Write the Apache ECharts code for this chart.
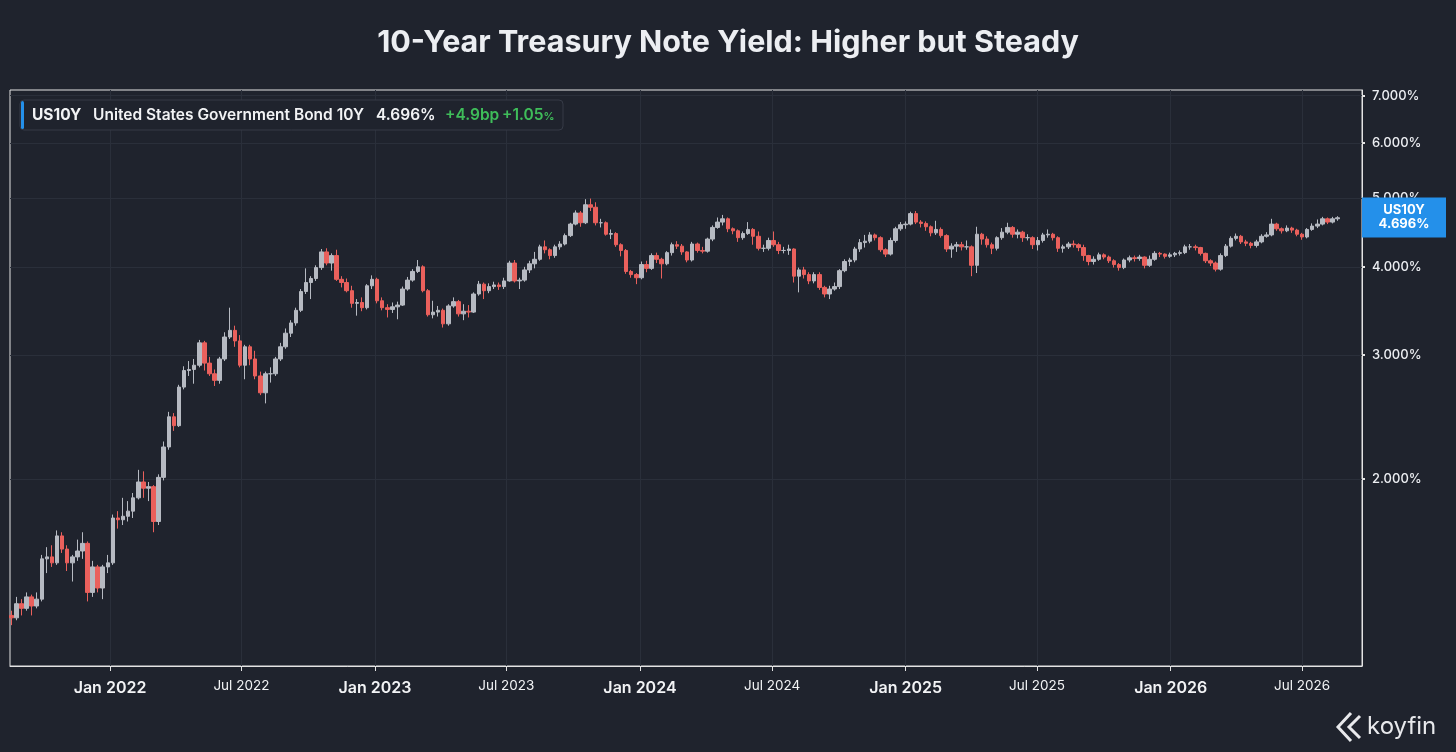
<!DOCTYPE html>
<html lang="en">
<head>
<meta charset="UTF-8">
<title>10-Year Treasury Note Yield</title>
<script src="https://cdn.jsdelivr.net/npm/echarts@6/dist/echarts.min.js"></script>
<style>
    html, body { margin: 0; padding: 0; background: #1f232d; }
    #main { width: 1456px; height: 752px; }
</style>
</head>
<body>
<div id="main"></div>
<script>
// weekly candles, first week starts Mon 16 Aug 2021
// open of each week = close of the week before
var firstOpen = 1.28;

var closes = [
    1.27, 1.33, 1.31, 1.36, 1.32, 1.35, 1.54, 1.55, 1.52, 1.66,
    1.59, 1.52, 1.55, 1.58, 1.62, 1.38, 1.50, 1.40, 1.50, 1.52,
    1.76, 1.75, 1.77, 1.80, 1.88, 1.98, 1.94, 1.95, 1.74, 2.01,
    2.22, 2.45, 2.38, 2.70, 2.85, 2.86, 2.90, 3.12, 2.92, 2.82,
    2.76, 2.96, 3.18, 3.25, 3.14, 2.90, 3.08, 2.96, 2.80, 2.65,
    2.82, 2.82, 2.96, 3.08, 3.22, 3.33, 3.47, 3.69, 3.80, 3.85,
    3.99, 4.20, 4.05, 4.15, 3.84, 3.80, 3.70, 3.55, 3.56, 3.50,
    3.76, 3.84, 3.58, 3.50, 3.48, 3.51, 3.53, 3.72, 3.83, 3.94,
    4.00, 3.70, 3.42, 3.45, 3.47, 3.32, 3.52, 3.57, 3.43, 3.46,
    3.45, 3.66, 3.78, 3.70, 3.75, 3.77, 3.75, 3.82, 4.05, 3.82,
    3.83, 3.96, 4.04, 4.10, 4.27, 4.23, 4.15, 4.27, 4.31, 4.43,
    4.60, 4.77, 4.62, 4.90, 4.86, 4.62, 4.62, 4.45, 4.46, 4.30,
    4.22, 3.94, 3.90, 3.86, 4.03, 3.98, 4.15, 4.10, 4.04, 4.19,
    4.30, 4.28, 4.20, 4.09, 4.31, 4.22, 4.21, 4.38, 4.55, 4.63,
    4.68, 4.53, 4.50, 4.40, 4.46, 4.52, 4.42, 4.25, 4.25, 4.36,
    4.30, 4.22, 4.22, 4.24, 3.88, 3.96, 3.90, 3.82, 3.90, 3.74,
    3.66, 3.72, 3.75, 3.95, 4.07, 4.09, 4.24, 4.33, 4.35, 4.44,
    4.40, 4.23, 4.17, 4.36, 4.53, 4.59, 4.60, 4.76, 4.63, 4.61,
    4.56, 4.47, 4.52, 4.43, 4.24, 4.28, 4.30, 4.27, 4.27, 4.02,
    4.45, 4.38, 4.30, 4.25, 4.40, 4.48, 4.55, 4.45, 4.48, 4.40,
    4.40, 4.30, 4.36, 4.44, 4.45, 4.40, 4.25, 4.27, 4.31, 4.30,
    4.26, 4.15, 4.07, 4.10, 4.16, 4.13, 4.08, 4.03, 3.99, 4.09,
    4.12, 4.11, 4.13, 4.02, 4.10, 4.18, 4.17, 4.14, 4.16, 4.18,
    4.19, 4.27, 4.27, 4.26, 4.18, 4.08, 4.05, 3.97, 4.15, 4.28,
    4.39, 4.42, 4.34, 4.32, 4.29, 4.34, 4.42, 4.44, 4.60, 4.53,
    4.50, 4.54, 4.51, 4.45, 4.41, 4.52, 4.57, 4.60, 4.68, 4.63,
    4.68, 4.696
];

var highs = [
    1.30, 1.36, 1.35, 1.38, 1.37, 1.38, 1.56, 1.60, 1.61, 1.69,
    1.68, 1.61, 1.56, 1.64, 1.68, 1.63, 1.53, 1.51, 1.51, 1.56,
    1.78, 1.80, 1.88, 1.86, 1.91, 2.06, 2.05, 1.98, 1.96, 2.03,
    2.26, 2.49, 2.48, 2.72, 2.89, 2.94, 2.96, 3.15, 3.14, 2.98,
    2.86, 2.98, 3.23, 3.50, 3.30, 3.20, 3.10, 3.10, 3.04, 2.84,
    2.84, 2.88, 2.98, 3.12, 3.27, 3.36, 3.50, 3.72, 3.98, 3.88,
    4.02, 4.24, 4.25, 4.18, 4.23, 3.88, 3.85, 3.76, 3.60, 3.62,
    3.78, 3.89, 3.86, 3.62, 3.54, 3.56, 3.57, 3.75, 3.87, 3.97,
    4.09, 4.02, 3.72, 3.58, 3.52, 3.49, 3.54, 3.62, 3.59, 3.54,
    3.53, 3.68, 3.82, 3.80, 3.79, 3.81, 3.80, 3.86, 4.08, 4.09,
    3.86, 4.00, 4.08, 4.20, 4.30, 4.36, 4.25, 4.30, 4.35, 4.46,
    4.62, 4.81, 4.80, 4.99, 5.00, 4.94, 4.68, 4.64, 4.52, 4.48,
    4.32, 4.24, 3.96, 3.92, 4.07, 4.08, 4.18, 4.19, 4.12, 4.21,
    4.33, 4.35, 4.31, 4.21, 4.34, 4.33, 4.27, 4.40, 4.58, 4.70,
    4.74, 4.70, 4.55, 4.52, 4.49, 4.63, 4.54, 4.49, 4.30, 4.40,
    4.49, 4.34, 4.27, 4.30, 4.25, 3.99, 4.00, 3.93, 3.93, 3.93,
    3.76, 3.76, 3.80, 3.97, 4.10, 4.12, 4.27, 4.38, 4.44, 4.48,
    4.46, 4.42, 4.25, 4.40, 4.56, 4.63, 4.64, 4.79, 4.80, 4.66,
    4.64, 4.58, 4.65, 4.55, 4.45, 4.32, 4.34, 4.34, 4.36, 4.29,
    4.56, 4.47, 4.42, 4.33, 4.42, 4.54, 4.62, 4.57, 4.52, 4.50,
    4.45, 4.42, 4.41, 4.47, 4.52, 4.47, 4.42, 4.30, 4.34, 4.36,
    4.32, 4.30, 4.16, 4.14, 4.19, 4.18, 4.15, 4.10, 4.05, 4.11,
    4.15, 4.15, 4.16, 4.14, 4.15, 4.21, 4.20, 4.18, 4.19, 4.20,
    4.22, 4.30, 4.31, 4.30, 4.27, 4.19, 4.10, 4.07, 4.18, 4.31,
    4.42, 4.46, 4.44, 4.37, 4.34, 4.37, 4.45, 4.48, 4.68, 4.62,
    4.55, 4.58, 4.56, 4.53, 4.47, 4.54, 4.61, 4.67, 4.71, 4.70,
    4.71, 4.72
];

var lows = [
    1.24, 1.26, 1.28, 1.30, 1.28, 1.31, 1.34, 1.47, 1.50, 1.51,
    1.57, 1.48, 1.43, 1.53, 1.54, 1.34, 1.36, 1.38, 1.35, 1.47,
    1.51, 1.70, 1.72, 1.74, 1.76, 1.87, 1.88, 1.86, 1.68, 1.72,
    1.99, 2.20, 2.34, 2.37, 2.68, 2.80, 2.73, 2.88, 2.85, 2.80,
    2.71, 2.73, 2.94, 3.16, 3.08, 2.88, 2.77, 2.90, 2.77, 2.63,
    2.56, 2.74, 2.80, 2.94, 3.06, 3.18, 3.30, 3.45, 3.66, 3.60,
    3.82, 3.96, 4.02, 3.95, 3.82, 3.74, 3.68, 3.50, 3.41, 3.46,
    3.48, 3.72, 3.55, 3.47, 3.39, 3.44, 3.37, 3.52, 3.70, 3.81,
    3.92, 3.68, 3.40, 3.38, 3.40, 3.28, 3.30, 3.50, 3.40, 3.36,
    3.39, 3.44, 3.64, 3.60, 3.67, 3.72, 3.71, 3.72, 3.81, 3.80,
    3.72, 3.81, 3.92, 3.98, 4.08, 4.18, 4.10, 4.12, 4.23, 4.29,
    4.41, 4.58, 4.56, 4.60, 4.80, 4.58, 4.55, 4.43, 4.38, 4.27,
    4.14, 3.91, 3.86, 3.78, 3.84, 3.93, 3.96, 4.05, 3.85, 4.02,
    4.15, 4.24, 4.16, 4.06, 4.07, 4.19, 4.18, 4.19, 4.35, 4.53,
    4.58, 4.48, 4.45, 4.34, 4.37, 4.44, 4.30, 4.22, 4.20, 4.22,
    4.27, 4.17, 4.18, 4.16, 3.80, 3.68, 3.85, 3.78, 3.79, 3.71,
    3.62, 3.60, 3.70, 3.72, 3.93, 4.01, 4.06, 4.20, 4.26, 4.32,
    4.36, 4.20, 4.13, 4.15, 4.33, 4.50, 4.53, 4.58, 4.60, 4.55,
    4.50, 4.42, 4.44, 4.40, 4.20, 4.12, 4.20, 4.22, 4.23, 3.88,
    3.92, 4.30, 4.26, 4.17, 4.22, 4.37, 4.45, 4.40, 4.39, 4.34,
    4.36, 4.24, 4.22, 4.33, 4.40, 4.36, 4.20, 4.19, 4.24, 4.26,
    4.21, 4.08, 4.02, 4.03, 4.08, 4.10, 4.05, 3.99, 3.95, 3.97,
    4.06, 4.07, 4.08, 3.98, 4.00, 4.08, 4.13, 4.11, 4.12, 4.13,
    4.15, 4.17, 4.23, 4.22, 4.15, 4.05, 4.01, 3.94, 3.95, 4.13,
    4.26, 4.36, 4.31, 4.28, 4.25, 4.26, 4.32, 4.40, 4.42, 4.50,
    4.46, 4.48, 4.47, 4.42, 4.37, 4.39, 4.50, 4.54, 4.58, 4.60,
    4.61, 4.65
];

var yTicks = [2, 3, 4, 5, 6, 7];
var xTicks = ['2022-01-01', '2022-07-01', '2023-01-01', '2023-07-01', '2024-01-01',
    '2024-07-01', '2025-01-01', '2025-07-01', '2026-01-01', '2026-07-01'];
var monthNames = ['Jan', 'Feb', 'Mar', 'Apr', 'May', 'Jun', 'Jul', 'Aug', 'Sep', 'Oct', 'Nov', 'Dec'];

var ticker = 'US10Y';
var bondName = 'United States Government Bond 10Y';
var lastValue = 4.696;
var changeBp = '+4.9bp';
var changePct = '+1.05';

var bg = '#1f232d';
var upColor = '#b6bac2';
var downColor = '#ea605c';
var blue = '#2490ea';

// candle sits on the Wednesday of its week (x is a timestamp)
var candles = closes.map(function (c, i) {
    var open = i === 0 ? firstOpen : closes[i - 1];
    return [new Date(2021, 7, 18 + i * 7).getTime(), open, c, lows[i], highs[i]];
});

var xTickValues = xTicks.map(function (s) {
    return new Date(s + 'T00:00:00').getTime();
});

var myChart = echarts.init(document.getElementById('main'));

var option = {
    backgroundColor: bg,
    animation: false,
    title: {
        text: '10-Year Treasury Note Yield: Higher but Steady',
        left: 'center',
        top: 27,
        padding: 0,
        textStyle: {
            color: '#eceef2',
            fontSize: 30.5,
            fontWeight: 700,
            fontFamily: 'Inter'
        }
    },
    grid: {
        left: 10,
        right: 94,
        top: 90,
        bottom: 86,
        show: true,
        borderColor: '#e4e4e4',
        borderWidth: 1,
        outerBoundsMode: 'none'
    },
    xAxis: {
        type: 'value',
        min: new Date(2021, 7, 16, 6).getTime(),
        max: new Date(2026, 8, 21, 14).getTime(),
        axisLine: { show: true, lineStyle: { color: '#e4e4e4', width: 1 } },
        axisTick: {
            show: true,
            length: 5,
            customValues: xTickValues,
            lineStyle: { color: '#e4e4e4' }
        },
        splitLine: {
            show: true,
            lineStyle: { color: '#2a2f3a', width: 1 }
        },
        axisLabel: {
            customValues: xTickValues,
            margin: 12,
            formatter: function (value) {
                var d = new Date(value);
                var txt = monthNames[d.getMonth()] + ' ' + d.getFullYear();
                return d.getMonth() === 0 ? '{big|' + txt + '}' : '{small|' + txt + '}';
            },
            rich: {
                big: { fontSize: 16, fontWeight: 600, color: '#f2f3f5', fontFamily: 'Inter', lineHeight: 20 },
                small: { fontSize: 13.5, fontWeight: 400, color: '#f2f3f5', fontFamily: 'Inter', lineHeight: 16 }
            }
        }
    },
    yAxis: {
        type: 'log',
        logBase: 10,
        position: 'right',
        min: 1.085,
        max: 7.13,
        axisLine: { show: true, lineStyle: { color: '#e4e4e4' } },
        axisTick: {
            show: true,
            length: 3,
            customValues: yTicks,
            lineStyle: { color: '#e4e4e4', width: 2 }
        },
        splitLine: {
            show: true,
            lineStyle: { color: '#2a2f3a', width: 1 }
        },
        axisLabel: {
            customValues: yTicks,
            margin: 10,
            color: '#eceef2',
            fontSize: 13,
            fontWeight: 500,
            fontFamily: 'Inter',
            formatter: function (v) {
                return Number(v).toFixed(3) + '%';
            }
        }
    },
    series: [
        {
            type: 'candlestick',
            data: candles,
            encode: { x: 0, y: [1, 2, 3, 4] },
            barWidth: 4,
            clip: false,
            itemStyle: {
                color: upColor,
                color0: downColor,
                borderColor: upColor,
                borderColor0: downColor,
                borderWidth: 1
            },
            // last value tag on the right axis
            markLine: {
                silent: true,
                symbol: 'none',
                animation: false,
                data: [{ yAxis: lastValue }],
                lineStyle: { width: 0, color: blue },
                label: {
                    show: true,
                    position: 'end',
                    distance: 0,
                    opacity: 1,
                    padding: [6, 0],
                    backgroundColor: blue,
                    formatter: function () {
                        return '{t|' + ticker + '}\n{t|' + lastValue.toFixed(3) + '%}';
                    },
                    rich: {
                        t: {
                            width: 84,
                            align: 'center',
                            color: '#ffffff',
                            fontSize: 13,
                            fontWeight: 700,
                            fontFamily: 'Inter',
                            lineHeight: 14
                        }
                    }
                }
            }
        }
    ],
    graphic: [
        {
            type: 'rect',
            shape: { x: 20, y: 100, width: 543, height: 30, r: 4 },
            style: { fill: bg, stroke: '#363b47', lineWidth: 1 },
            z: 100
        },
        {
            type: 'rect',
            shape: { x: 21, y: 101, width: 3, height: 28, r: 1.5 },
            style: { fill: blue },
            z: 101
        },
        {
            type: 'text', x: 32, y: 115, z: 101,
            style: { text: ticker, fill: '#f2f3f5', font: '700 15.5px Inter', verticalAlign: 'middle' }
        },
        {
            type: 'text', x: 93, y: 115, z: 101,
            style: { text: bondName, fill: '#f2f3f5', font: '600 15.5px Inter', verticalAlign: 'middle' }
        },
        {
            type: 'text', x: 376, y: 115, z: 101,
            style: { text: lastValue.toFixed(3) + '%', fill: '#f2f3f5', font: '600 15.5px Inter', verticalAlign: 'middle' }
        },
        {
            type: 'text', x: 445, y: 115, z: 101,
            style: { text: changeBp, fill: '#3fbd5a', font: '600 15.5px Inter', verticalAlign: 'middle' }
        },
        {
            type: 'text', x: 502, y: 115, z: 101,
            style: {
                text: '{n|' + changePct + '}{p|%}',
                verticalAlign: 'middle',
                rich: {
                    n: { fill: '#3fbd5a', font: '600 15.5px Inter' },
                    p: { fill: '#3fbd5a', font: '600 11px Inter', padding: [3, 0, 0, 0] }
                }
            }
        },
        // koyfin mark
        {
            type: 'polyline', z: 101,
            shape: { points: [[1351, 713], [1338, 727], [1351, 741]] },
            style: { stroke: '#e8e9ec', lineWidth: 3, fill: null }
        },
        {
            type: 'polyline', z: 101,
            shape: { points: [[1360, 716], [1349, 727], [1360, 738]] },
            style: { stroke: '#e8e9ec', lineWidth: 3, fill: null }
        },
        {
            type: 'text', x: 1367, y: 727, z: 101,
            style: { text: 'koyfin', fill: '#e8e9ec', font: '400 24px Inter', verticalAlign: 'middle' }
        }
    ]
};

myChart.setOption(option);
</script>
</body>
</html>
